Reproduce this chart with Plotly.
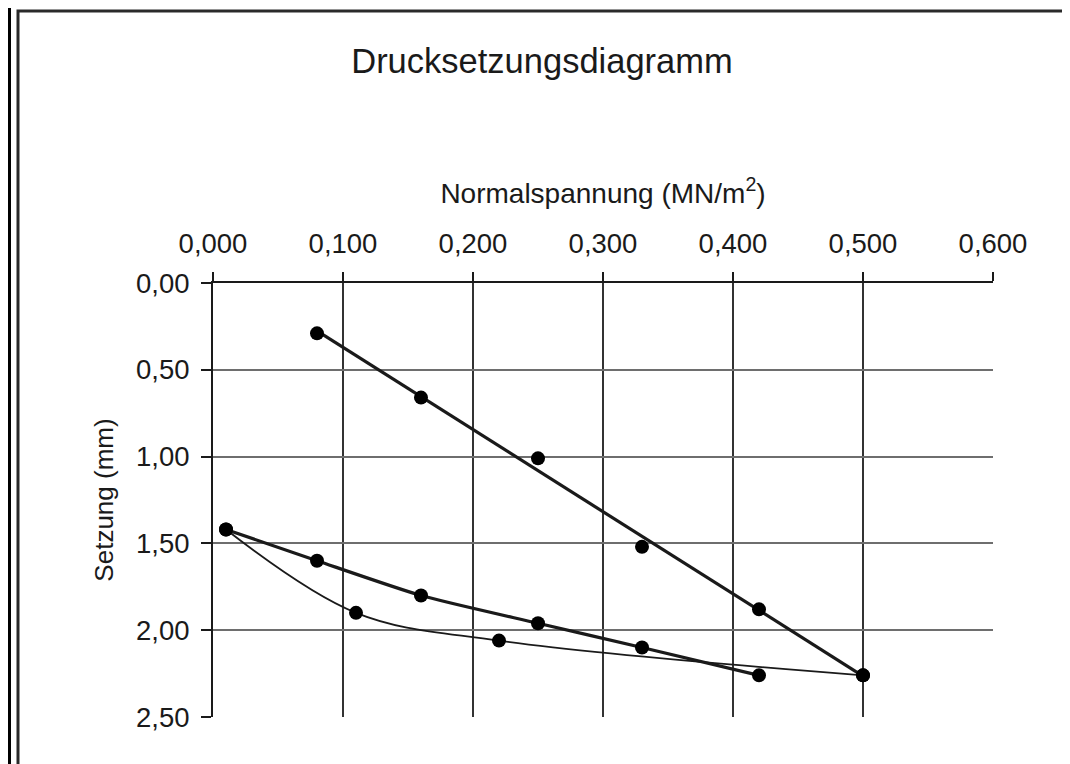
import numpy as np
import plotly.graph_objects as go

# ---- data ----
x_ticks = [0.0, 0.1, 0.2, 0.3, 0.4, 0.5, 0.6]
y_ticks = [0.0, 0.5, 1.0, 1.5, 2.0, 2.5]
x_grid = [0.1, 0.2, 0.3, 0.4, 0.5]
y_grid = [0.5, 1.0, 1.5, 2.0]

# upper series (points with a linear trendline)
s1_x = [0.08, 0.16, 0.25, 0.33, 0.42, 0.50]
s1_y = [0.29, 0.66, 1.01, 1.52, 1.88, 2.26]

# middle series (thick line)
s2_x = [0.01, 0.08, 0.16, 0.25, 0.33, 0.42]
s2_y = [1.42, 1.60, 1.80, 1.96, 2.10, 2.26]

# lower series (thin smoothed curve)
s3_x = [0.01, 0.11, 0.22, 0.50]
s3_y = [1.42, 1.90, 2.06, 2.26]

title_text = "Drucksetzungsdiagramm"
x_title = "Normalspannung (MN/m<sup>2</sup>)"
y_title = "Setzung (mm)"

# ---- figure ----
# the page body has an 8px margin, so the figure is drawn 8px smaller and
# every reference pixel position is shifted by that offset
OFF = 8
W, H = 1070 - OFF, 764 - OFF
L, T = 213 - OFF, 283 - OFF
R = W - (993 - OFF)
B = H - (717 - OFF)
pw, ph = W - L - R, H - T - B


def px(xpix):
    return (xpix - OFF - L) / pw


def py(ypix):
    return (H - B - (ypix - OFF)) / ph


FONT = "Liberation Sans, Arial, Helvetica, sans-serif"
INK = "#1a1a1a"

coef = np.polyfit(s1_x, s1_y, 1)
trend_x = [min(s1_x), max(s1_x)]
trend_y = list(np.polyval(coef, trend_x))

fig = go.Figure()

# invisible trace carrying the overlay (gridline) axes
fig.add_trace(go.Scatter(x=s1_x, y=s1_y, xaxis="x2", yaxis="y2", mode="markers",
                         marker=dict(opacity=0), hoverinfo="skip", showlegend=False))

fig.add_trace(go.Scatter(x=s3_x, y=s3_y, mode="lines+markers",
                         line=dict(color=INK, width=1.8, shape="spline", smoothing=1.0),
                         marker=dict(color="black", size=14), showlegend=False))
fig.add_trace(go.Scatter(x=s2_x, y=s2_y, mode="lines+markers",
                         line=dict(color=INK, width=3.2, shape="spline", smoothing=0.6),
                         marker=dict(color="black", size=14), showlegend=False))
fig.add_trace(go.Scatter(x=trend_x, y=trend_y, mode="lines",
                         line=dict(color=INK, width=3.2), showlegend=False))
fig.add_trace(go.Scatter(x=s1_x, y=s1_y, mode="markers",
                         marker=dict(color="black", size=14), showlegend=False))

fig.update_layout(
    width=W, height=H,
    margin=dict(l=L, r=R, t=T, b=B, autoexpand=False),
    paper_bgcolor="white", plot_bgcolor="white",
    separators=", ",
    showlegend=False,
    font=dict(family=FONT, color=INK),
    title=dict(text=title_text, x=px(542), xref="paper", xanchor="center",
               y=1 - (61 - OFF) / H, yref="container", yanchor="middle",
               font=dict(size=34.5, family=FONT, color=INK)),
    xaxis=dict(range=[0, 0.6], side="top", tickvals=x_ticks, tickformat=".3f",
               ticks="outside", ticklen=9, tickwidth=2, tickcolor=INK,
               showline=True, linecolor=INK, linewidth=2, mirror=False,
               showgrid=False, zeroline=False, tickfont=dict(size=27.5),
               ticklabelstandoff=8,
               title=dict(text=x_title, font=dict(size=28), standoff=16)),
    yaxis=dict(range=[2.5, 0], tickvals=y_ticks, tickformat=".2f",
               ticks="outside", ticklen=10, tickwidth=2, tickcolor=INK,
               showline=True, linecolor=INK, linewidth=2,
               showgrid=True, gridcolor="#d4d4d4", gridwidth=1, griddash="dot",
               zeroline=False, tickfont=dict(size=27.5), ticklabelstandoff=6,
               title=dict(text=y_title, font=dict(size=26), standoff=15)),
    xaxis2=dict(overlaying="x", matches="x", range=[0, 0.6], side="top",
                tickvals=x_grid, showticklabels=False, ticks="", showline=False,
                showgrid=True, gridcolor="#333333", gridwidth=2, zeroline=False),
    yaxis2=dict(overlaying="y", matches="y", range=[2.5, 0], side="left",
                tickvals=y_grid, showticklabels=False, ticks="", showline=False,
                showgrid=True, gridcolor="#6e6e6e", gridwidth=1.6, zeroline=False),
    shapes=[
        dict(type="rect", xref="paper", yref="paper",
             x0=px(18), x1=px(1065), y0=py(800), y1=py(11),
             line=dict(color="#2a2a2a", width=3), fillcolor="rgba(0,0,0,0)", layer="below"),
        dict(type="line", xref="paper", yref="paper",
             x0=px(8), x1=px(8), y0=py(800), y1=py(0),
             line=dict(color="black", width=6)),
    ],
)

fig.write_html("out.html")
